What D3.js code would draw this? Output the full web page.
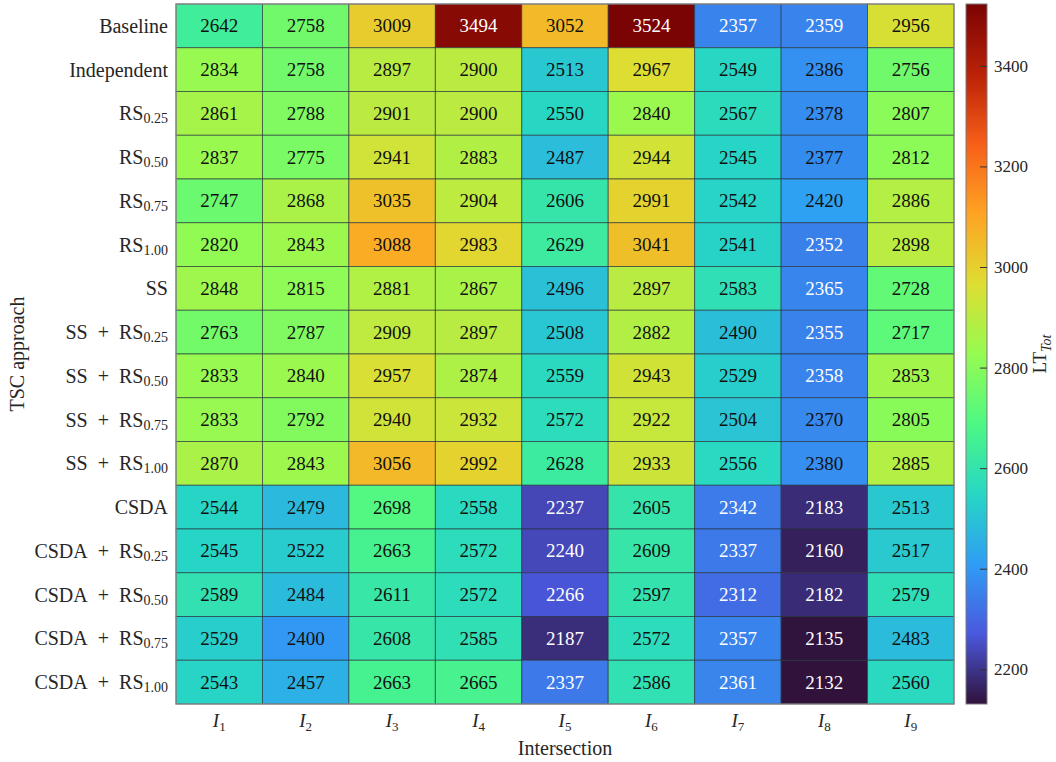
<!DOCTYPE html>
<html>
<head>
<meta charset="utf-8">
<script src="https://cdn.jsdelivr.net/npm/d3@7"></script>
<style>
  html, body { margin: 0; padding: 0; background: #fff; }
  svg { display: block; font-family: "Liberation Serif", "DejaVu Serif", serif; }
</style>
</head>
<body>
<svg id="chart" width="1056" height="762"></svg>
<script>
// Rows: traffic signal control approaches ("_" marks a subscript)
const approaches = [
  "Baseline", "Independent",
  "RS_0.25", "RS_0.50", "RS_0.75", "RS_1.00",
  "SS",
  "SS + RS_0.25", "SS + RS_0.50", "SS + RS_0.75", "SS + RS_1.00",
  "CSDA",
  "CSDA + RS_0.25", "CSDA + RS_0.50", "CSDA + RS_0.75", "CSDA + RS_1.00"
];
// Columns: intersections I1..I9
const intersections = ["1", "2", "3", "4", "5", "6", "7", "8", "9"];

// Total lost time per approach (row) and intersection (column)
const ltBaseline      = [2642, 2758, 3009, 3494, 3052, 3524, 2357, 2359, 2956];
const ltIndependent   = [2834, 2758, 2897, 2900, 2513, 2967, 2549, 2386, 2756];
const ltRS025         = [2861, 2788, 2901, 2900, 2550, 2840, 2567, 2378, 2807];
const ltRS050         = [2837, 2775, 2941, 2883, 2487, 2944, 2545, 2377, 2812];
const ltRS075         = [2747, 2868, 3035, 2904, 2606, 2991, 2542, 2420, 2886];
const ltRS100         = [2820, 2843, 3088, 2983, 2629, 3041, 2541, 2352, 2898];
const ltSS            = [2848, 2815, 2881, 2867, 2496, 2897, 2583, 2365, 2728];
const ltSSRS025       = [2763, 2787, 2909, 2897, 2508, 2882, 2490, 2355, 2717];
const ltSSRS050       = [2833, 2840, 2957, 2874, 2559, 2943, 2529, 2358, 2853];
const ltSSRS075       = [2833, 2792, 2940, 2932, 2572, 2922, 2504, 2370, 2805];
const ltSSRS100       = [2870, 2843, 3056, 2992, 2628, 2933, 2556, 2380, 2885];
const ltCSDA          = [2544, 2479, 2698, 2558, 2237, 2605, 2342, 2183, 2513];
const ltCSDARS025     = [2545, 2522, 2663, 2572, 2240, 2609, 2337, 2160, 2517];
const ltCSDARS050     = [2589, 2484, 2611, 2572, 2266, 2597, 2312, 2182, 2579];
const ltCSDARS075     = [2529, 2400, 2608, 2585, 2187, 2572, 2357, 2135, 2483];
const ltCSDARS100     = [2543, 2457, 2663, 2665, 2337, 2586, 2361, 2132, 2560];

const colorbarTicks = [2200, 2400, 2600, 2800, 3000, 3200, 3400];

const matrix = [
  ltBaseline, ltIndependent, ltRS025, ltRS050, ltRS075, ltRS100,
  ltSS, ltSSRS025, ltSSRS050, ltSSRS075, ltSSRS100,
  ltCSDA, ltCSDARS025, ltCSDARS050, ltCSDARS075, ltCSDARS100
];

const cells = [];
matrix.forEach((row, r) => row.forEach((v, c) => cells.push({ r, c, v })));

const svg = d3.select("#chart");
const plot = { left: 176, top: 4, right: 954, bottom: 704 };
const bar = { left: 966, right: 987 };

const x = d3.scaleBand().domain(d3.range(intersections.length)).range([plot.left, plot.right]);
const y = d3.scaleBand().domain(d3.range(approaches.length)).range([plot.top, plot.bottom]);

const extent = d3.extent(cells, d => d.v);

// Turbo colormap: ends pinned to the classic turbo endpoints, middle from d3
const turboStops = ["#30123b"]
  .concat(d3.range(1, 10).map(i => d3.interpolateTurbo(i / 10)))
  .concat(["#7a0403"]);
const turbo = d3.piecewise(d3.interpolateRgb, turboStops);
const color = d3.scaleSequential(turbo).domain(extent);

// Light labels on the dark ends of the colormap
const darkLow = 2367, darkHigh = 3300;
const textColor = v => (v < darkLow || v > darkHigh) ? "#ffffff" : "#111111";

// Cells
svg.append("g").selectAll("rect").data(cells).join("rect")
  .attr("x", d => x(d.c))
  .attr("y", d => y(d.r))
  .attr("width", x.bandwidth())
  .attr("height", y.bandwidth())
  .attr("fill", d => color(d.v))
  .attr("stroke", "#26323a")
  .attr("stroke-opacity", 0.7)
  .attr("stroke-width", 0.9);

// Cell values
svg.append("g").selectAll("text").data(cells).join("text")
  .attr("x", d => x(d.c) + x.bandwidth() / 2)
  .attr("y", d => y(d.r) + y.bandwidth() / 2)
  .attr("text-anchor", "middle")
  .attr("dominant-baseline", "central")
  .attr("font-size", 19)
  .attr("fill", d => textColor(d.v))
  .text(d => d.v);

// Plot frame
svg.append("rect")
  .attr("x", plot.left).attr("y", plot.top)
  .attr("width", plot.right - plot.left).attr("height", plot.bottom - plot.top)
  .attr("fill", "none").attr("stroke", "#8a8a8a").attr("stroke-width", 1.2);

// Row labels with subscripts
const rowLab = svg.append("g").selectAll("text").data(approaches).join("text")
  .attr("x", plot.left - 8)
  .attr("y", (d, i) => y(i) + y.bandwidth() / 2)
  .attr("text-anchor", "end")
  .attr("dominant-baseline", "central")
  .attr("font-size", 20)
  .attr("fill", "#262626")
  .style("white-space", "pre");
rowLab.each(function (d) {
  const [main, sub] = d.split("_");
  const t = d3.select(this);
  t.append("tspan").text(main.replace(" + ", "\u2002+\u2002"));
  if (sub) t.append("tspan").attr("font-size", 14).attr("dy", 5).text(sub);
});

// Column labels I_k
const colLab = svg.append("g").selectAll("text").data(intersections).join("text")
  .attr("x", (d, i) => x(i) + x.bandwidth() / 2)
  .attr("y", 727)
  .attr("text-anchor", "middle")
  .attr("font-size", 19)
  .attr("fill", "#262626");
colLab.append("tspan").attr("font-style", "italic").text("I");
colLab.append("tspan").attr("font-size", 13).attr("dy", 4).text(d => d);

// Axis titles
svg.append("text")
  .attr("x", (plot.left + plot.right) / 2).attr("y", 755)
  .attr("text-anchor", "middle").attr("font-size", 20).attr("fill", "#262626")
  .text("Intersection");
svg.append("text")
  .attr("transform", `translate(24, ${(plot.top + plot.bottom) / 2}) rotate(-90)`)
  .attr("text-anchor", "middle").attr("font-size", 20).attr("fill", "#262626")
  .text("TSC approach");

// Colorbar
const cScale = d3.scaleLinear().domain(extent).range([plot.bottom, plot.top]);
const defs = svg.append("defs");
const grad = defs.append("linearGradient").attr("id", "cbar")
  .attr("x1", 0).attr("y1", 1).attr("x2", 0).attr("y2", 0);
d3.range(0, 1.0001, 0.02).forEach(t => {
  grad.append("stop").attr("offset", t).attr("stop-color", turbo(t));
});
svg.append("rect")
  .attr("x", bar.left).attr("y", plot.top)
  .attr("width", bar.right - bar.left).attr("height", plot.bottom - plot.top)
  .attr("fill", "url(#cbar)").attr("stroke", "#7a7a7a").attr("stroke-width", 1);

const cbAxis = svg.append("g").selectAll("g").data(colorbarTicks).join("g")
  .attr("transform", d => `translate(0, ${cScale(d)})`);
cbAxis.append("line")
  .attr("x1", bar.right - 7).attr("x2", bar.right)
  .attr("stroke", "#333").attr("stroke-width", 1);
cbAxis.append("text")
  .attr("x", bar.right + 7)
  .attr("dominant-baseline", "central")
  .attr("font-size", 17).attr("fill", "#262626")
  .text(d => d);

const cbTitle = svg.append("text")
  .attr("transform", `translate(1046, ${(plot.top + plot.bottom) / 2}) rotate(-90)`)
  .attr("text-anchor", "middle").attr("font-size", 19).attr("fill", "#262626");
cbTitle.append("tspan").text("LT");
cbTitle.append("tspan").attr("font-size", 14).attr("font-style", "italic").attr("dy", 5).text("Tot");
</script>
</body>
</html>
